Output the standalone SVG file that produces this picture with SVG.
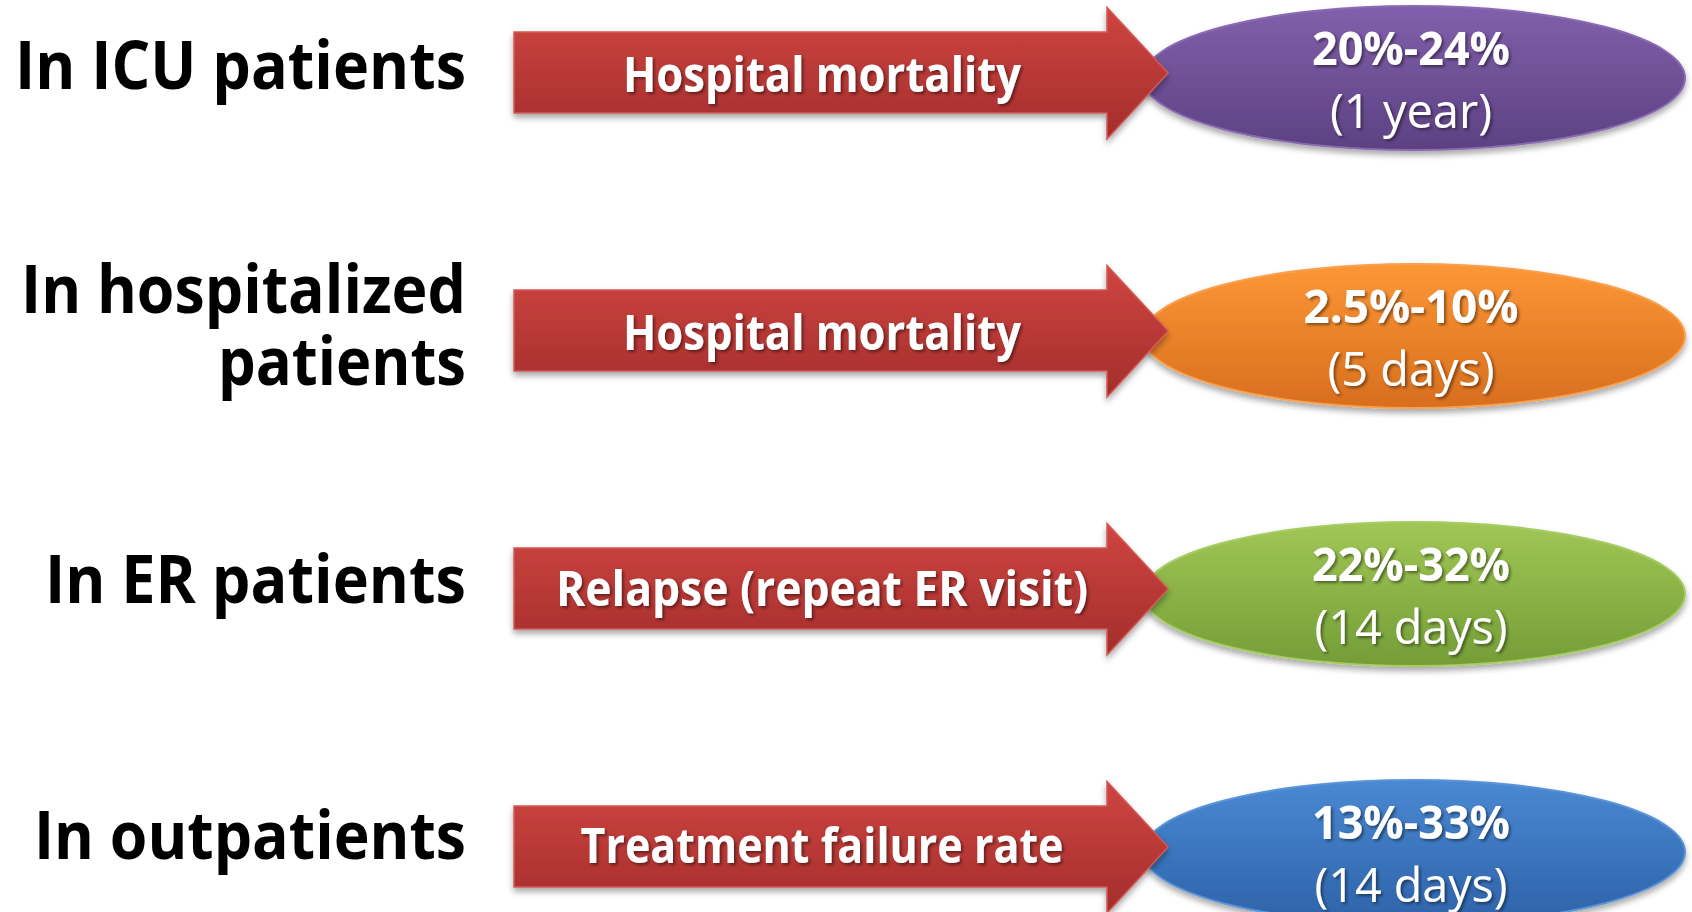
<svg xmlns="http://www.w3.org/2000/svg" width="1692" height="912" viewBox="0 0 1692 912">
  <defs>
    <linearGradient id="gRed" x1="0" y1="0" x2="0" y2="1">
      <stop offset="0" stop-color="#CF4541"/>
      <stop offset="1" stop-color="#A32D2B"/>
    </linearGradient>
    <linearGradient id="gPurple" x1="0" y1="0" x2="0" y2="1">
      <stop offset="0" stop-color="#8160AB"/>
      <stop offset="1" stop-color="#5C4182"/>
    </linearGradient>
    <linearGradient id="gOrange" x1="0" y1="0" x2="0" y2="1">
      <stop offset="0" stop-color="#FC9736"/>
      <stop offset="1" stop-color="#D86E1E"/>
    </linearGradient>
    <linearGradient id="gGreen" x1="0" y1="0" x2="0" y2="1">
      <stop offset="0" stop-color="#A0C756"/>
      <stop offset="1" stop-color="#749D37"/>
    </linearGradient>
    <linearGradient id="gBlue" x1="0" y1="0" x2="0" y2="1">
      <stop offset="0" stop-color="#4A89D3"/>
      <stop offset="1" stop-color="#2D62A8"/>
    </linearGradient>
    <filter id="shapeShadow" x="-10%" y="-20%" width="120%" height="150%">
      <feGaussianBlur in="SourceAlpha" stdDeviation="3"/>
      <feOffset dx="0" dy="4" result="b"/>
      <feComponentTransfer><feFuncA type="linear" slope="0.35"/></feComponentTransfer>
      <feMerge><feMergeNode/><feMergeNode in="SourceGraphic"/></feMerge>
    </filter>
    <filter id="textShadow" x="-10%" y="-30%" width="120%" height="160%">
      <feDropShadow dx="2" dy="2" stdDeviation="1.5" flood-color="#000" flood-opacity="0.45"/>
    </filter>
    <!-- block arrow: body 514..1107, head tip at 1168 -->
    <path id="blockArrow" d="M514,32 H1107 V7.5 L1168,73 L1107,139 V113 H514 Z"/>
  </defs>
  <style>
    .label { font-family: "Open Sans", "Noto Sans", "Liberation Sans", sans-serif; font-weight: 700; font-size: 66px; fill: #000; text-anchor: end; }
    .arrowText { font-family: "Open Sans", "Noto Sans", "Liberation Sans", sans-serif; font-weight: 700; font-size: 48px; fill: #fff; text-anchor: middle; filter: url(#textShadow); }
    .valBold { font-family: "Open Sans", "Noto Sans", "Liberation Sans", sans-serif; font-weight: 700; font-size: 46px; fill: #fff; text-anchor: middle; filter: url(#textShadow); }
    .valReg { font-family: "Open Sans", "Noto Sans", "Liberation Sans", sans-serif; font-weight: 400; font-size: 47px; fill: #fff; text-anchor: middle; filter: url(#textShadow); }
    .arrowShape { fill: url(#gRed); stroke: #D25A55; stroke-width: 1.5; filter: url(#shapeShadow); }
    .oval { stroke-width: 2; filter: url(#shapeShadow); }
  </style>

  <rect width="1692" height="912" fill="#fff"/>

  <!-- row labels -->
  <g id="label-icu">
    <text class="label" x="466" y="89" textLength="451" lengthAdjust="spacingAndGlyphs">In ICU patients</text>
  </g>
  <g id="label-hospitalized">
    <text class="label" x="466" y="313" textLength="445" lengthAdjust="spacingAndGlyphs">In hospitalized</text>
    <text class="label" x="466" y="385" textLength="248" lengthAdjust="spacingAndGlyphs">patients</text>
  </g>
  <g id="label-er">
    <text class="label" x="466" y="603" textLength="421" lengthAdjust="spacingAndGlyphs">In ER patients</text>
  </g>
  <g id="label-outpatients">
    <text class="label" x="466" y="859" textLength="432" lengthAdjust="spacingAndGlyphs">In outpatients</text>
  </g>

  <!-- result ovals -->
  <g id="oval-icu">
    <ellipse class="oval" cx="1414" cy="78" rx="271" ry="72" fill="url(#gPurple)" stroke="#8A6BB2"/>
    <text class="valBold" x="1411" y="65" textLength="198" lengthAdjust="spacingAndGlyphs">20%-24%</text>
    <text class="valReg" x="1411" y="128" textLength="162" lengthAdjust="spacingAndGlyphs">(1 year)</text>
  </g>
  <g id="oval-hospitalized" transform="translate(0,258)">
    <ellipse class="oval" cx="1414" cy="78" rx="271" ry="72" fill="url(#gOrange)" stroke="#F9A050"/>
    <text class="valBold" x="1411" y="65" textLength="215" lengthAdjust="spacingAndGlyphs">2.5%-10%</text>
    <text class="valReg" x="1411" y="128" textLength="167" lengthAdjust="spacingAndGlyphs">(5 days)</text>
  </g>
  <g id="oval-er" transform="translate(0,516)">
    <ellipse class="oval" cx="1414" cy="78" rx="271" ry="72" fill="url(#gGreen)" stroke="#A6CC62"/>
    <text class="valBold" x="1411" y="65" textLength="198" lengthAdjust="spacingAndGlyphs">22%-32%</text>
    <text class="valReg" x="1411" y="128" textLength="193" lengthAdjust="spacingAndGlyphs">(14 days)</text>
  </g>
  <g id="oval-outpatients" transform="translate(0,774)">
    <ellipse class="oval" cx="1414" cy="78" rx="271" ry="72" fill="url(#gBlue)" stroke="#5A94D8"/>
    <text class="valBold" x="1411" y="65" textLength="198" lengthAdjust="spacingAndGlyphs">13%-33%</text>
    <text class="valReg" x="1411" y="128" textLength="193" lengthAdjust="spacingAndGlyphs">(14 days)</text>
  </g>

  <!-- block arrows linking each group to its outcome -->
  <g id="connectors">
    <g id="arrow-icu">
      <use href="#blockArrow" class="arrowShape"/>
      <text class="arrowText" x="822" y="92" textLength="398" lengthAdjust="spacingAndGlyphs">Hospital mortality</text>
    </g>
    <g id="arrow-hospitalized" transform="translate(0,258)">
      <use href="#blockArrow" class="arrowShape"/>
      <text class="arrowText" x="822" y="92" textLength="398" lengthAdjust="spacingAndGlyphs">Hospital mortality</text>
    </g>
    <g id="arrow-er" transform="translate(0,516)">
      <use href="#blockArrow" class="arrowShape"/>
      <text class="arrowText" x="822" y="90" textLength="532" lengthAdjust="spacingAndGlyphs">Relapse (repeat ER visit)</text>
    </g>
    <g id="arrow-outpatients" transform="translate(0,774)">
      <use href="#blockArrow" class="arrowShape"/>
      <text class="arrowText" x="822" y="89" textLength="483" lengthAdjust="spacingAndGlyphs">Treatment failure rate</text>
    </g>
  </g>
</svg>
